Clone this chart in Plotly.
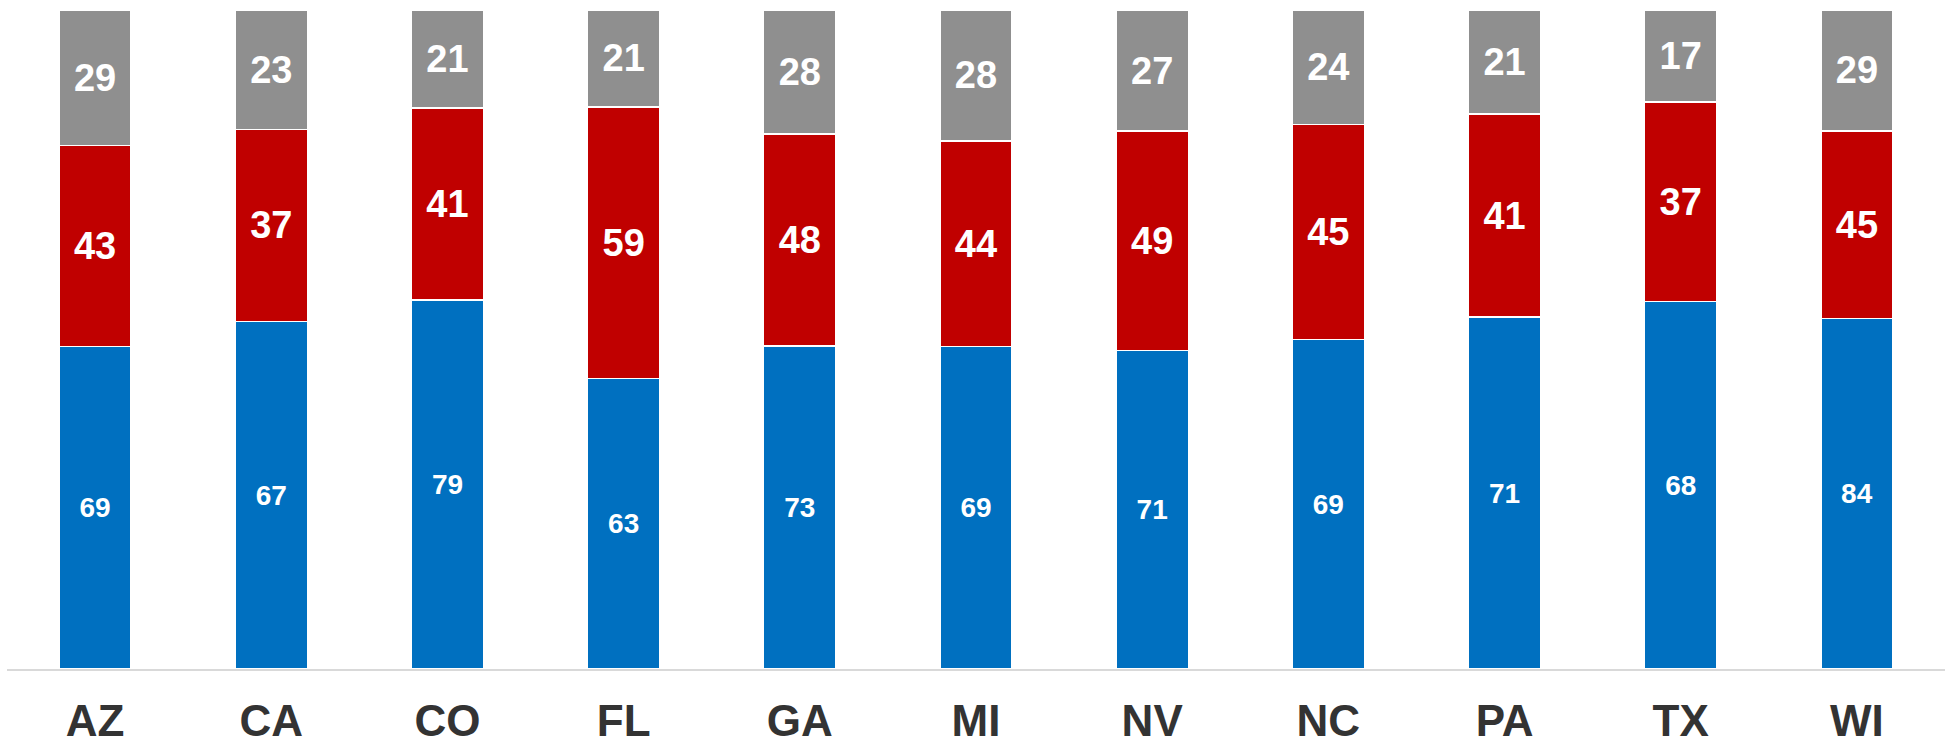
import plotly.graph_objects as go

states = ["AZ", "CA", "CO", "FL", "GA", "MI", "NV", "NC", "PA", "TX", "WI"]
blue_vals = [69, 67, 79, 63, 73, 69, 71, 69, 71, 68, 84]
red_vals = [43, 37, 41, 59, 48, 44, 49, 45, 41, 37, 45]
gray_vals = [29, 23, 21, 21, 28, 28, 27, 24, 21, 17, 29]

series = [
    ("blue", blue_vals, "#0070C0", 28),
    ("red", red_vals, "#C00000", 38),
    ("gray", gray_vals, "#8F8F8F", 38),
]

fig = go.Figure()
for name, vals, color, fsize in series:
    fig.add_trace(go.Bar(
        x=states, y=vals, name=name,
        marker=dict(color=color, line=dict(color="white", width=1.5)),
        text=[str(v) for v in vals], texttemplate="%{text}",
        textposition="inside", insidetextanchor="middle", textangle=0,
        constraintext="none",
        textfont=dict(family="Arial, Liberation Sans, sans-serif", size=fsize, color="white", weight="bold"),
        hoverinfo="skip",
    ))

fig.update_layout(
    barmode="stack", barnorm="percent", bargap=0.59,
    width=1950, height=744,
    margin=dict(l=7, r=5, t=10, b=75, autoexpand=False),
    paper_bgcolor="white", plot_bgcolor="white",
    showlegend=False,
    font=dict(family="Arial, Liberation Sans, sans-serif"),
)
fig.update_xaxes(
    showline=True, linecolor="#D9D9D9", linewidth=2,
    showgrid=False, ticks="", ticklabelstandoff=12, automargin=False,
    tickfont=dict(family="Arial, Liberation Sans, sans-serif", size=44, color="#333333", weight="bold"),
)
fig.update_yaxes(visible=False, range=[0, 100], showgrid=False, automargin=False)

fig.write_html(
    "out.html",
    config={"displayModeBar": False},
    post_script="document.body.style.margin='0';document.body.style.overflow='hidden';",
)
